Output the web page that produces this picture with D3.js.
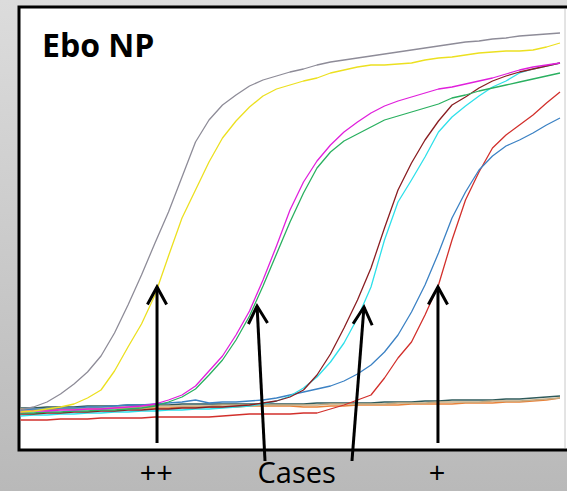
<!DOCTYPE html>
<html><head><meta charset="utf-8">
<script src="https://cdn.jsdelivr.net/npm/d3@7/dist/d3.min.js"></script>
<style>html,body{margin:0;padding:0;overflow:hidden;}svg{display:block;}</style>
</head><body>
<svg id="chart" width="567" height="491"></svg>
<script>
// Cycles 0..40
const cycles = d3.range(0, 41);

const gray = [8.0,8.6,9.6,11.2,13.2,15.6,18.8,23.4,29,35,41.4,47.6,54.6,61.6,66,69,71,72.8,74,74.8,75.6,76.2,77,77.6,78,78.4,78.8,79.2,79.6,80,80.4,80.8,81.2,81.6,81.8,82.2,82.4,82.8,83,83.2,83.4];
const yellow = [7.6,7.8,8.2,8.6,9.2,10.4,12,15.8,20.6,25.2,31,38.8,46.4,52,57.6,62.4,65.8,68.6,70.8,72.2,73,73.8,74.4,75.4,76,76.6,77,77,77.2,77.4,78,78.4,78.6,79,79.4,79.6,79.8,79.8,80,80.6,81.4];
const magenta = [7.6,7.8,7.8,8,8,8.2,8.2,8.4,8.6,8.8,9.2,10,11,12.8,15.8,18.8,23,27.8,34,40.8,48,53.6,57.8,61,63.6,65.6,67.4,68.8,69.8,70.6,71.4,72.2,72.6,73.2,73.8,74.4,75.2,76,76.6,77,77.4];
const green = [7.4,7.4,7.6,7.6,7.8,7.8,8,8,8.2,8.4,8.8,9.6,10.6,12.2,15,18,22,26.8,32.8,39.2,45.6,51.4,56.4,59.6,61.8,63.2,64.6,66,66.8,67.6,68.4,69.2,70.4,71,71.8,72.4,73,73.6,74.2,74.8,75.4];
const maroon = [7.2,7.2,7.4,7.4,7.6,7.6,7.8,7.8,8,8,8.2,8.2,8.4,8.4,8.6,8.6,8.8,9,9.4,9.8,10.6,12,15,19.2,24.4,30,36.4,44.4,52,57.4,62,65.8,69,70.6,72.4,73.8,74.8,75.6,76.2,76.8,77.4];
const cyan = [6.8,7,7,7.2,7.2,7.4,7.4,7.6,7.6,7.8,7.8,8,8,8.2,8.2,8.4,8.6,8.8,9.2,9.8,10.8,12.4,14.6,17.6,21.4,26.4,32.6,42,49.6,54,58.6,63.6,66.6,68.8,70.8,72.6,73.8,75.4,76.2,76.8,77.4];
const blue = [8,8.2,8.2,8.4,8.4,8.6,8.6,8.8,9,9,9.2,9.4,9.6,10,9.4,9.6,9.6,9.8,10,10.4,11,11.6,12.2,12.8,13.8,15.2,17,19.6,23,27.6,33,39.4,46.4,51.6,56,58.8,60.8,62,63.4,65,66.4];
const red = [6,6,6,6.2,6.2,6.2,6.4,6.4,6.4,6.4,6.6,6.6,6.6,6.6,6.6,6.8,7,7.2,7.2,7.2,7.2,7.4,7.4,8.2,9,10,11,14.4,18.4,21.6,27,33,42,50,55.6,60.4,63,65,67,69.4,71.6];
const slate = [8.4,8.4,8.6,8.6,8.6,8.8,8.8,8.8,9,9,9,9,9.2,9.2,9.2,9.2,9.2,9.2,9.2,9.2,9.2,9.2,9.4,9.4,9.4,9.4,9.4,9.6,9.6,9.6,9.8,9.8,10,10,10,10,10.2,10.2,10.4,10.6,10.8];
const orange = [8,8,8,8.2,8.2,8.2,8.2,8.4,8.4,8.4,8.4,8.4,8.6,8.6,8.6,8.6,8.6,8.8,8.8,8.8,8.8,8.6,8.6,8.8,8.8,9,9,9,9,9.2,9.2,9.2,9.2,9.4,9.4,9.4,9.6,9.6,9.8,10,10.4];
const tan = [8.2,8.2,8.2,8.4,8.4,8.4,8.6,8.6,8.6,8.6,8.8,8.8,8.8,8.8,8.8,9,9,9,9,9,9,9,9,9.2,9.2,9.2,9.2,9.2,9.4,9.4,9.4,9.6,9.6,9.6,9.6,9.8,9.8,9.8,10,10.2,10.4];

const seriesNames = ["slate","orange","tan","red","blue","cyan","maroon","green","magenta","yellow","gray"];
const seriesValues = [slate, orange, tan, red, blue, cyan, maroon, green, magenta, yellow, gray];
const seriesColors = ["#2f5a5a","#e8823a","#c4aa80","#d2302c","#3c82c4","#2ee0ea","#8a1e22","#2ab060","#e020dc","#ece020","#8e8c98"];

const title = "Ebo NP";
const labelTexts = ["++","Cases","+"];
const labelCycles = [10.1, 20.5, 30.9];
// arrows: tip and tail positions in (cycle, fluorescence)
const arrowTips = [[10.15,32.6],[17.56,28.8],[25.48,28.6],[30.96,32.6]];
const arrowTails = [[10.15,1.4],[18.15,-2.2],[24.59,-2.2],[30.96,1.4]];

const svg = d3.select("#chart");
const W = 567, H = 491;
const defs = svg.append("defs");
const grad = defs.append("linearGradient").attr("id","bg").attr("x1",0).attr("y1",0).attr("x2",0).attr("y2",1);
grad.append("stop").attr("offset","0%").attr("stop-color","#dcdcdc");
grad.append("stop").attr("offset","100%").attr("stop-color","#b9b9b9");
svg.append("rect").attr("width",W).attr("height",H).attr("fill","url(#bg)");

const plot = {left:19, top:7, right:567, bottom:450};
defs.append("clipPath").attr("id","clip").append("rect")
  .attr("x",plot.left+1.5).attr("y",plot.top+1.5).attr("width",plot.right-plot.left).attr("height",plot.bottom-plot.top-3);

svg.append("rect").attr("x",plot.left).attr("y",plot.top).attr("width",plot.right-plot.left+5).attr("height",plot.bottom-plot.top)
  .attr("fill","#ffffff").attr("stroke","#000").attr("stroke-width",3);
svg.append("line").attr("x1",565).attr("x2",565).attr("y1",plot.top+2).attr("y2",plot.bottom-2).attr("stroke","#c8c8c8").attr("stroke-width",1);

const x = d3.scaleLinear().domain([0,40]).range([20,560]);
const y = d3.scaleLinear().domain([0,90]).range([450,0]);

const line = d3.line().x((d,i)=>x(cycles[i])).y(d=>y(d)).curve(d3.curveLinear);

const g = svg.append("g").attr("clip-path","url(#clip)");
g.selectAll("path.s").data(seriesValues).join("path")
  .attr("class","s")
  .attr("d", d=>line(d))
  .attr("fill","none")
  .attr("stroke",(d,i)=>seriesColors[i])
  .attr("stroke-width",1.3)
  .attr("stroke-linejoin","round");

svg.append("text").attr("x",42).attr("y",57).text(title)
  .attr("font-family","'Open Sans', sans-serif").attr("font-weight",700).attr("font-size",32).attr("fill","#000");

// arrows
arrowTips.forEach((tip,i)=>{
  const tail = arrowTails[i];
  const tx = x(tip[0]), ty = y(tip[1]);
  const bx = x(tail[0]), by = y(tail[1]);
  svg.append("line").attr("x1",bx).attr("y1",by).attr("x2",tx).attr("y2",ty)
    .attr("stroke","#000").attr("stroke-width",3);
  const ang = Math.atan2(by-ty, bx-tx);
  const len = 20, spread = 0.5;
  const p1 = [tx+len*Math.cos(ang+spread), ty+len*Math.sin(ang+spread)];
  const p2 = [tx+len*Math.cos(ang-spread), ty+len*Math.sin(ang-spread)];
  svg.append("path").attr("d",`M${p1[0]},${p1[1]}L${tx},${ty}L${p2[0]},${p2[1]}`)
    .attr("fill","none").attr("stroke","#000").attr("stroke-width",3).attr("stroke-linejoin","miter");
});

svg.selectAll("text.lab").data(labelTexts).join("text")
  .attr("class","lab")
  .attr("x",(d,i)=>x(labelCycles[i])).attr("y",483)
  .attr("text-anchor","middle")
  .attr("font-family","'Open Sans', sans-serif").attr("font-size",29).attr("fill","#000")
  .text(d=>d);
</script>
</body></html>
